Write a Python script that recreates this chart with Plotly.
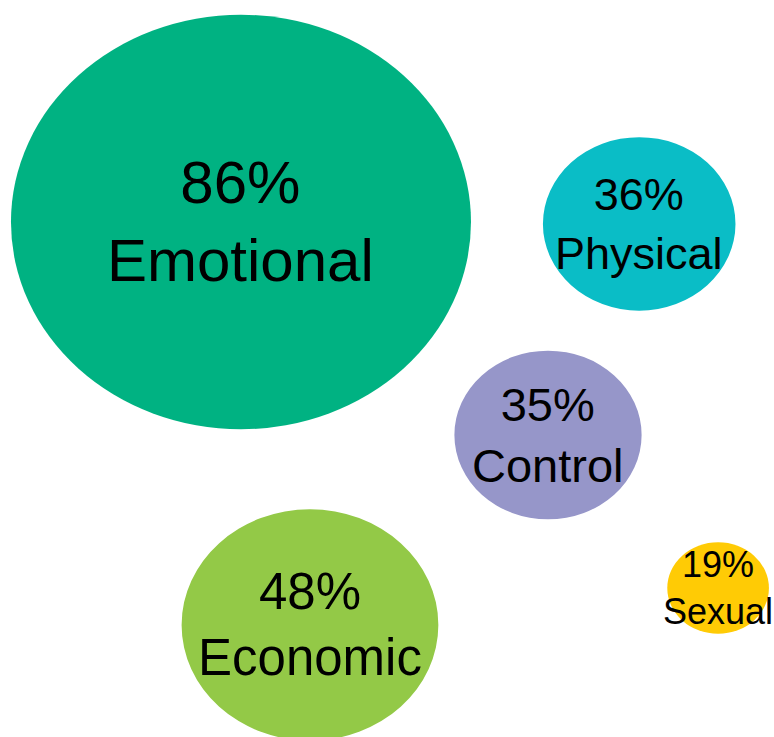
import plotly.graph_objects as go

categories = ["Emotional", "Physical", "Control", "Economic", "Sexual"]
values = [86, 36, 35, 48, 19]
x_pos = [90.1, 239.0, 204.9, 115.9, 268.5]
y_pos = [92.1, 92.9, 180.5, 259.3, 244.0]
colors = ["#00B282", "#0ABDC6", "#9696C9", "#93C947", "#FFCB05"]
font_sizes = [60, 45, 47, 51, 36]

fig = go.Figure()
# invisible trace to set up axes
fig.add_trace(go.Scatter(x=x_pos, y=y_pos, mode="markers",
                         marker=dict(size=1, opacity=0), hoverinfo="skip",
                         showlegend=False))

for cat, v, x, y, c, fs in zip(categories, values, x_pos, y_pos, colors, font_sizes):
    fig.add_shape(type="circle", xref="x", yref="y",
                  x0=x - v, x1=x + v,
                  y0=y - v, y1=y + v,
                  fillcolor=c, line=dict(width=0), layer="below")
    fig.add_annotation(x=x, y=y, xref="x", yref="y",
                       text=f"{v}%<br>{cat}", showarrow=False,
                       font=dict(family="Liberation Sans, Arial, sans-serif",
                                 size=fs, color="black"),
                       align="center")

fig.update_layout(
    width=774, height=737,
    margin=dict(l=0, r=0, t=0, b=0),
    paper_bgcolor="white", plot_bgcolor="white",
    xaxis=dict(range=[0, 289.4], visible=False, fixedrange=True),
    yaxis=dict(range=[305.8, 0], visible=False, fixedrange=True),
    showlegend=False,
)

fig.write_html(
    "out.html",
    config={"displayModeBar": False},
    post_script="document.body.style.margin='0';document.documentElement.style.overflow='hidden';",
)
